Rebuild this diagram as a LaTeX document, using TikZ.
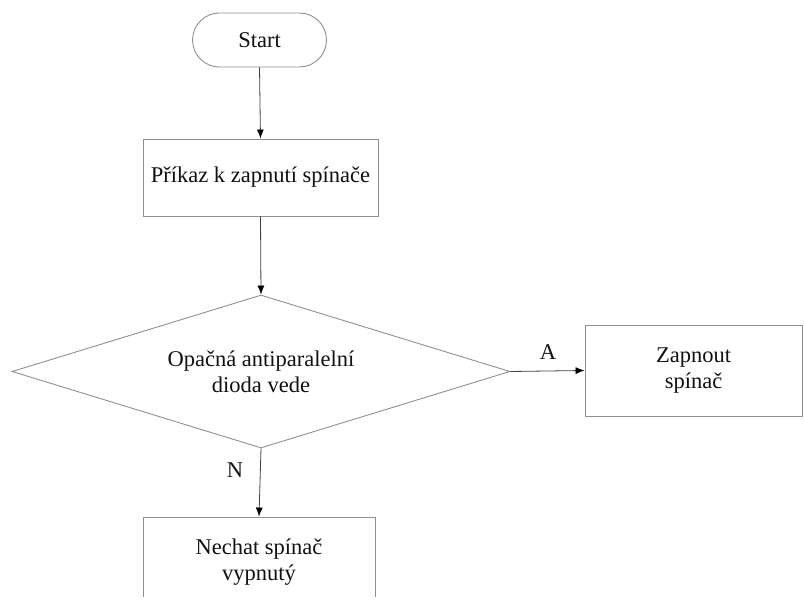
\documentclass[tikz,border=0pt]{standalone}
\usepackage{fontspec}
\setmainfont{Liberation Serif}
\usetikzlibrary{shapes.geometric,arrows.meta}
\definecolor{outline}{HTML}{909090}
\definecolor{wire}{HTML}{404040}
\definecolor{ink}{HTML}{111111}
\begin{document}
\begin{tikzpicture}[x=1pt,y=-1pt,
  every node/.style={font=\fontsize{22.5}{26}\selectfont, text=ink, align=center},
  block/.style={draw=outline, line width=0.9pt, rectangle, inner sep=0pt},
  terminal/.style={block, rounded corners=27pt},
  decision/.style={draw=outline, line width=0.9pt, diamond, inner sep=0pt},
  flow/.style={draw=wire, line width=0.8pt, -{Latex[length=9pt,width=7pt,fill=black,color=black]}},
  tag/.style={inner sep=2pt}]
\useasboundingbox (0,0) rectangle (804,604);
\begin{scope}
\clip (0,0) rectangle (804,596);
\node[terminal, minimum width=134pt, minimum height=54pt] (start) at (259.5,40) {Start};
\node[block, minimum width=235pt, minimum height=77pt] (cmd) at (260.5,177.5) {Příkaz k zapnutí spínače};
\node[decision, minimum width=498pt, minimum height=153pt, aspect=3.25] (dec) at (261,371.5) {Opačná antiparalelní\\dioda vede};
\node[block, minimum width=217pt, minimum height=91pt] (on) at (693.5,370.5) {Zapnout\\spínač};
\node[block, minimum width=232pt, minimum height=90pt] (off) at (259,562) {Nechat spínač\\vypnutý};
\draw[flow] (start.south) -- (cmd.north);
\draw[flow] (cmd.south) -- (dec.north);
\draw[flow] (dec.east) -- (on.west);
\draw[flow] (dec.south) -- (off.north);
\node[tag] (lblA) at (548,352) {A};
\node[tag] (lblN) at (235,470) {N};
\end{scope}
\end{tikzpicture}
\end{document}
